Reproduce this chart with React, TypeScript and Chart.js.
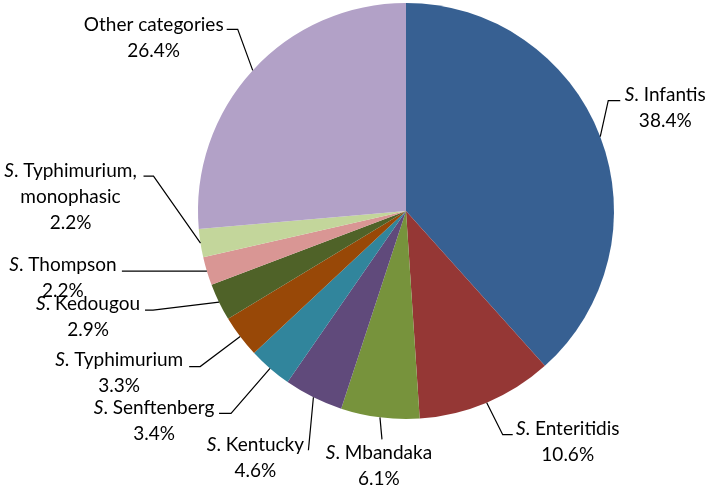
import React, { useEffect, useRef } from "react";
import { Chart, registerables } from "chart.js";

Chart.register(...registerables);

const categories = [
  "Infantis",
  "Enteritidis",
  "Mbandaka",
  "Kentucky",
  "Senftenberg",
  "Typhimurium",
  "Kedougou",
  "Thompson",
  "Typhimurium, monophasic",
  "Other categories",
];
const percentages = [38.4, 10.6, 6.1, 4.6, 3.4, 3.3, 2.9, 2.2, 2.2, 26.4];
const percentLabels = ["38.4%", "10.6%", "6.1%", "4.6%", "3.4%", "3.3%", "2.9%", "2.2%", "2.2%", "26.4%"];
const italicPrefix = [true, true, true, true, true, true, true, true, true, false];

const colors = [
  "#376092",
  "#953735",
  "#77933C",
  "#604A7B",
  "#31859C",
  "#984807",
  "#4F6228",
  "#D99694",
  "#C3D69B",
  "#B2A1C7",
];

// label layout: offsets from slice's outer-mid anchor point
// text = centre of first line, elbow/end = leader line bend and end point
const labelLayout = [
  { text: [65, -42], elbow: [8, -36], end: [20, -36] },
  { text: [81, 26], elbow: [16, 32], end: [26, 32] },
  { text: [-1, 36], elbow: [2, 22], end: [2, 22] },
  { text: [-58, 48], elbow: [-5, 53], end: [-5, 53] },
  { text: [-116, 39], elbow: [-39, 45], end: [-51, 45] },
  { text: [-121, 23], elbow: [-40, 30], end: [-51, 30] },
  { text: [-131, 2], elbow: [-66, 8], end: [-74, 8] },
  { text: [-144, -6], elbow: [-85, 0], end: [-85, 0] },
  { text: [-130, -72], elbow: [-47, -67], end: [-57, -67] },
  { text: [-99, -46], elbow: [-15, -41], end: [-26, -41] },
];

const FONT_FAMILY = "Lato, 'Open Sans', sans-serif";
const FONT_SIZE = 19;
const LINE_HEIGHT = 26;

function splitName(name: string): string[] {
  if (name === "Typhimurium, monophasic") return ["Typhimurium,", "monophasic"];
  return [name];
}

const labelPlugin = {
  id: "outerLabels",
  afterDraw(chart: any) {
    const ctx: CanvasRenderingContext2D = chart.ctx;
    const meta = chart.getDatasetMeta(0);
    ctx.save();
    meta.data.forEach((arc: any, i: number) => {
      const p = arc.getProps(["x", "y", "startAngle", "endAngle", "outerRadius"], true);
      const mid = (p.startAngle + p.endAngle) / 2;
      const ax = p.x + p.outerRadius * Math.cos(mid);
      const ay = p.y + p.outerRadius * Math.sin(mid);
      const lay = labelLayout[i];
      // leader line
      ctx.strokeStyle = "#000";
      ctx.lineWidth = 1.2;
      ctx.beginPath();
      ctx.moveTo(ax, ay);
      ctx.lineTo(ax + lay.elbow[0], ay + lay.elbow[1]);
      ctx.lineTo(ax + lay.end[0], ay + lay.end[1]);
      ctx.stroke();
      // text
      const nameLines = splitName(categories[i]);
      const lines: { prefix: boolean; text: string }[] = [];
      nameLines.forEach((t, k) => {
        lines.push({ prefix: italicPrefix[i] && k === 0, text: t });
      });
      lines.push({ prefix: false, text: percentLabels[i] });
      const cx = ax + lay.text[0];
      let cy = ay + lay.text[1];
      ctx.fillStyle = "#000";
      ctx.textBaseline = "middle";
      ctx.textAlign = "left";
      const regFont = `${FONT_SIZE}px ${FONT_FAMILY}`;
      const itFont = `italic ${FONT_SIZE}px ${FONT_FAMILY}`;
      lines.forEach((ln) => {
        if (ln.prefix) {
          ctx.font = itFont;
          const wS = ctx.measureText("S").width;
          ctx.font = regFont;
          const rest = ". " + ln.text;
          const wR = ctx.measureText(rest).width;
          const x0 = cx - (wS + wR) / 2;
          ctx.font = itFont;
          ctx.fillText("S", x0, cy);
          ctx.font = regFont;
          ctx.fillText(rest, x0 + wS, cy);
        } else {
          ctx.font = regFont;
          const w = ctx.measureText(ln.text).width;
          ctx.fillText(ln.text, cx - w / 2, cy);
        }
        cy += LINE_HEIGHT;
      });
    });
    ctx.restore();
  },
};

export default function App() {
  const ref = useRef<HTMLCanvasElement | null>(null);
  useEffect(() => {
    if (!ref.current) return;
    const chart = new Chart(ref.current, {
      type: "pie",
      data: {
        labels: categories,
        datasets: [
          {
            data: percentages,
            backgroundColor: colors,
            borderWidth: 0,
          },
        ],
      },
      options: {
        responsive: false,
        animation: false,
        layout: { padding: { left: 198, right: 95, top: 3, bottom: 73 } },
        plugins: {
          legend: { display: false },
          tooltip: { enabled: false },
        },
      },
      plugins: [labelPlugin],
    });
    return () => chart.destroy();
  }, []);
  return (
    <div style={{ position: "fixed", left: 0, top: 0, width: 709, height: 492, background: "#fff" }}>
      <canvas ref={ref} width={709} height={492} />
    </div>
  );
}
